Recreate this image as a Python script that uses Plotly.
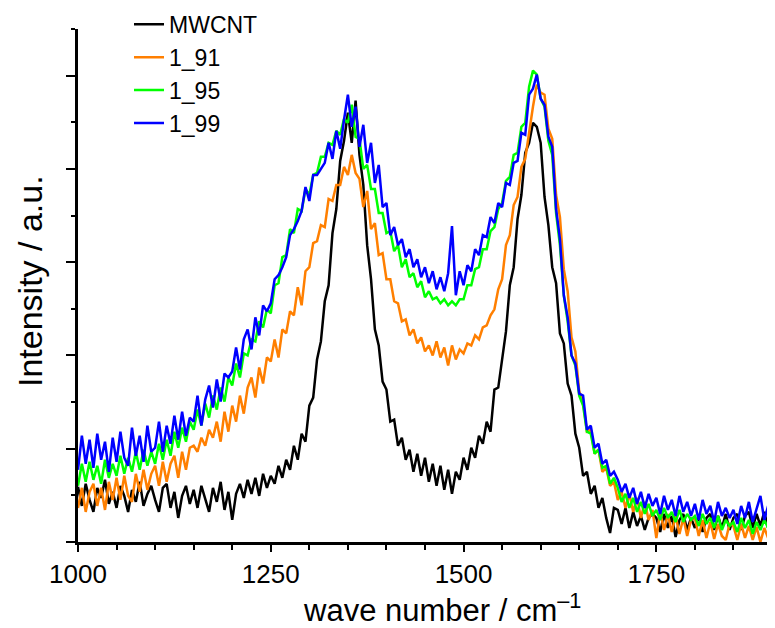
import plotly.graph_objects as go

wavenumber = list(range(1000, 1901, 5))

mwcnt = [
    55, 36, 58, 42, 30, 54, 44, 62, 38, 50,
    34, 56, 46, 30, 52, 40, 60, 36, 48, 56,
    42, 30, 54, 58, 34, 50, 24, 46, 56, 38,
    52, 34, 56, 42, 30, 54, 40, 60, 32, 50,
    22, 48, 58, 44, 62, 48, 64, 46, 68, 54,
    66, 58, 76, 64, 82, 72, 96, 82, 108, 100,
    136, 144, 182, 200, 240, 256, 308, 332, 380, 400,
    428, 398, 440, 386, 356, 296, 262, 212, 196, 160,
    152, 120, 122, 96, 104, 82, 92, 70, 88, 66,
    84, 60, 78, 56, 76, 52, 72, 48, 70, 62,
    84, 72, 94, 84, 106, 98, 120, 110, 152, 154,
    184, 210, 256, 274, 322, 346, 388, 398, 418, 414,
    398, 344, 316, 274, 258, 208, 198, 158, 146, 108,
    94, 66, 70, 48, 56, 34, 44, 24, 9, 34,
    32, 18, 34, 14, 30, 16, 26, 12, 24, 28,
    24, 10, 28, 14, 26, 5, 22, 28, 12, 24,
    14, 26, 10, 24, 28, 12, 26, 14, 28, 12,
    24, 28, 12, 26, 30, 14, 28, 16, 30, 14,
    26,
]

s_1_91 = [
    34, 54, 30, 50, 58, 36, 54, 32, 60, 42,
    64, 42, 66, 46, 40, 68, 50, 72, 52, 68,
    76, 56, 80, 60, 78, 86, 64, 90, 72, 94,
    96, 90, 104, 96, 112, 104, 120, 100, 130, 110,
    136, 120, 146, 128, 154, 164, 144, 174, 158, 184,
    180, 202, 184, 212, 208, 230, 226, 254, 236, 270,
    274, 298, 300, 316, 314, 342, 340, 356, 356, 374,
    366, 386, 368, 362, 334, 350, 312, 318, 286, 288,
    262, 262, 240, 238, 220, 222, 206, 212, 198, 204,
    190, 196, 186, 200, 184, 194, 176, 196, 182, 192,
    188, 198, 196, 206, 202, 214, 216, 226, 232, 252,
    262, 296, 306, 336, 344, 374, 382, 410, 434, 456,
    448, 446, 412, 402, 346, 324, 272, 250, 204, 190,
    150, 140, 110, 112, 88, 92, 70, 74, 56, 60,
    42, 50, 34, 48, 30, 44, 24, 40, 22, 32,
    4, 30, 12, 28, 10, 26, 8, 24, 6, 22,
    24, 6, 22, 4, 20, 3, 18, 6, 2, 18,
    16, 2, 18, 4, 16, 2, 15, 0, 14, 4,
    12,
]

s_1_95 = [
    56, 78, 60, 80, 62, 76, 58, 82, 64, 78,
    66, 86, 68, 84, 70, 90, 72, 92, 76, 90,
    78, 98, 82, 102, 86, 110, 94, 114, 100, 120,
    112, 132, 116, 138, 124, 146, 132, 154, 140, 164,
    156, 178, 164, 188, 186, 202, 200, 220, 214, 232,
    228, 256, 258, 284, 286, 312, 308, 332, 330, 352,
    346, 366, 368, 384, 384, 398, 396, 410, 406, 422,
    418, 436, 404, 402, 372, 376, 352, 352, 328, 328,
    308, 310, 290, 296, 274, 282, 264, 268, 254, 260,
    244, 250, 242, 244, 238, 242, 236, 240, 236, 242,
    242, 256, 256, 272, 274, 292, 292, 310, 314, 332,
    338, 360, 364, 386, 388, 414, 418, 454, 470, 466,
    442, 434, 400, 386, 328, 296, 246, 220, 186, 176,
    146, 136, 110, 108, 88, 92, 74, 76, 58, 64,
    54, 40, 48, 34, 44, 30, 40, 28, 38, 26,
    32, 22, 34, 24, 30, 20, 32, 20, 28, 22,
    26, 16, 28, 18, 24, 14, 26, 12, 22, 16,
    20, 10, 24, 14, 22, 8, 20, 12, 22, 14,
    18,
]

s_1_99 = [
    72, 106, 78, 102, 74, 108, 82, 100, 70, 104,
    80, 110, 84, 76, 114, 86, 106, 80, 116, 90,
    94, 120, 90, 116, 98, 126, 102, 130, 106, 124,
    120, 146, 116, 142, 156, 134, 162, 140, 168, 164,
    170, 194, 172, 202, 212, 192, 224, 206, 236, 230,
    238, 262, 266, 274, 284, 306, 312, 320, 330, 354,
    340, 366, 366, 372, 378, 398, 382, 410, 392, 421,
    446, 414, 434, 394, 416, 378, 398, 358, 376, 334,
    338, 306, 314, 296, 302, 284, 292, 274, 282, 264,
    274, 258, 270, 252, 264, 250, 268, 315, 246, 270,
    256, 276, 270, 292, 286, 306, 304, 324, 318, 338,
    334, 358, 356, 378, 380, 408, 406, 446, 452, 466,
    442, 436, 404, 394, 332, 302, 246, 224, 186, 178,
    148, 146, 112, 116, 94, 98, 78, 82, 66, 70,
    62, 50, 58, 44, 54, 38, 50, 34, 48, 36,
    44, 28, 46, 32, 42, 26, 46, 30, 40, 26,
    38, 22, 42, 28, 36, 20, 40, 26, 34, 24,
    32, 18, 36, 24, 40, 20, 32, 46, 22, 36,
    28,
]

series_names = ["MWCNT", "1_91", "1_95", "1_99"]
series_values = [mwcnt, s_1_91, s_1_95, s_1_99]
series_colors = ["#000000", "#FF7F00", "#00FF00", "#0000FF"]

FONT = "Liberation Sans, Arial, sans-serif"

fig = go.Figure()
for name, vals, col in zip(series_names, series_values, series_colors):
    fig.add_trace(go.Scatter(x=wavenumber, y=vals, mode="lines", name=name,
                             line=dict(color=col, width=2.5)))

# The page body adds an 8 px offset; the figure is sized so that it fits the window.
fig.update_layout(
    width=767, height=620,
    margin=dict(l=70, r=3, t=21, b=86, autoexpand=False),
    paper_bgcolor="white", plot_bgcolor="white",
    font=dict(family=FONT, color="black"),
    showlegend=True,
    legend=dict(x=0.0735, y=1.051, xanchor="left", yanchor="top",
                bgcolor="rgba(0,0,0,0)", font=dict(size=23, family=FONT),
                tracegroupgap=0, itemwidth=30),
    xaxis=dict(
        range=[1000, 1900], tick0=1000, dtick=250, automargin=False,
        showline=True, linewidth=3, linecolor="black", mirror=False,
        showgrid=False, zeroline=False,
        ticks="outside", ticklen=7, tickwidth=2, tickcolor="black",
        minor=dict(dtick=50, ticks="outside", ticklen=5, tickwidth=2, tickcolor="black", showgrid=False),
        tickfont=dict(size=26, family=FONT),
    ),
    yaxis=dict(
        range=[0, 511.5], tick0=0, dtick=93, automargin=False,
        showline=True, linewidth=3, linecolor="black", mirror=False,
        showgrid=False, zeroline=False, showticklabels=False,
        ticks="outside", ticklen=9, tickwidth=2, tickcolor="black",
        minor=dict(dtick=46.5, ticks="outside", ticklen=4, tickwidth=2, tickcolor="black", showgrid=False),
    ),
    annotations=[
        dict(text="wave number / cm<sup>–1</sup>", xref="paper", yref="paper",
             x=0.5245, y=-0.128, xanchor="center", yanchor="middle", showarrow=False,
             font=dict(size=31, family=FONT, color="black")),
        dict(text="Intensity / a.u.", xref="paper", yref="paper",
             x=-0.069, y=0.509, xanchor="center", yanchor="middle", showarrow=False,
             textangle=-90, font=dict(size=34, family=FONT, color="black")),
    ],
)

fig.write_html("out.html")
